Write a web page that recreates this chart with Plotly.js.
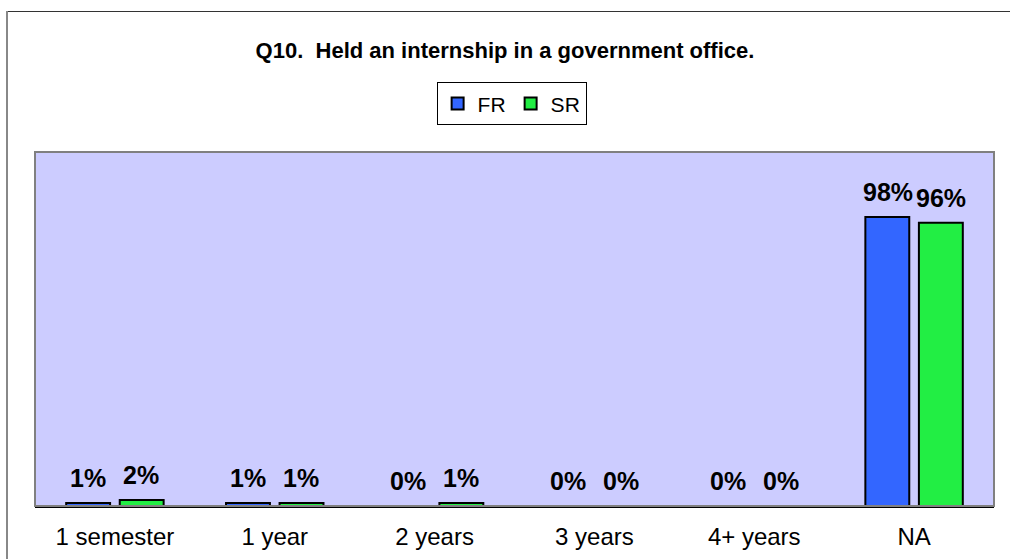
<!DOCTYPE html>
<html>
<head>
<meta charset="utf-8">
<script src="https://cdn.plot.ly/plotly-3.0.1.min.js"></script>
<style>
html,body{margin:0;padding:0;background:#fff;}
#wrap{position:relative;width:1010px;height:559px;}
#chart{width:1010px;height:559px;}
#frameTop{position:absolute;left:6px;top:11px;width:1004px;height:0;border-top:1px solid #333;}
#frameLeft{position:absolute;left:6px;top:11px;width:0;height:548px;border-left:2px solid #888;}
</style>
</head>
<body>
<div id="wrap">
<div id="chart"></div>
<div id="frameTop"></div>
<div id="frameLeft"></div>
</div>
<script>
const categories = ["1 semester", "1 year", "2 years", "3 years", "4+ years", "NA"];
const frValues = [1, 1, 0, 0, 0, 98];
const srValues = [2, 1, 1, 0, 0, 96];
const seriesNames = ["FR", "SR"];
const seriesColors = ["#3366ff", "#22ee44"];

const traces = [frValues, srValues].map((vals, i) => ({
  type: "bar",
  name: seriesNames[i],
  x: categories,
  y: vals,
  marker: {color: seriesColors[i], line: {color: "#000", width: 2}},
  hoverinfo: "skip"
}));

const annotations = [];
[frValues, srValues].forEach((vals, i) => {
  vals.forEach((v, j) => {
    annotations.push({
      x: categories[j], y: v, xref: "x", yref: "y",
      text: "<b>" + v + "%</b>", showarrow: false,
      xanchor: "center", yanchor: "bottom",
      xshift: i === 0 ? -26.5 : 26.5, yshift: 9,
      font: {family: "Liberation Sans, Arial", size: 25, color: "#000"}
    });
  });
});

const layout = {
  width: 1010, height: 559,
  margin: {l: 35, r: 16, t: 152, b: 53, pad: 0},
  paper_bgcolor: "#fff",
  plot_bgcolor: "#ccccff",
  title: {
    text: "<b>Q10.  Held an internship in a government office.</b>",
    x: 0.5, xref: "container", xanchor: "center",
    y: 0.9106, yref: "container", yanchor: "middle",
    font: {family: "Liberation Sans, Arial", size: 22, color: "#000"}
  },
  barmode: "group",
  bargap: 0.33,
  bargroupgap: 0.18,
  showlegend: true,
  legend: {
    orientation: "h", x: 0.497, xanchor: "center", xref: "paper",
    y: 1.136, yanchor: "middle",
    bordercolor: "#000", borderwidth: 1, bgcolor: "#fff",
    font: {family: "Liberation Sans, Arial", size: 21, color: "#000"},
    itemwidth: 30, tracegroupgap: 0
  },
  xaxis: {
    type: "category",
    showline: true, linecolor: "#000", linewidth: 2,
    ticks: "", showgrid: false,
    tickfont: {family: "Liberation Sans, Arial", size: 24, color: "#000"},
    ticklabelstandoff: 8
  },
  yaxis: {
    range: [0, 120], visible: false, showgrid: false, zeroline: false
  },
  shapes: [{
    type: "rect", xref: "paper", yref: "paper", x0: 0, x1: 1, y0: 0, y1: 1,
    line: {color: "#808080", width: 2}, layer: "above"
  }],
  annotations: annotations
};

Plotly.newPlot("chart", traces, layout, {displayModeBar: false, staticPlot: true});
</script>
</body>
</html>
